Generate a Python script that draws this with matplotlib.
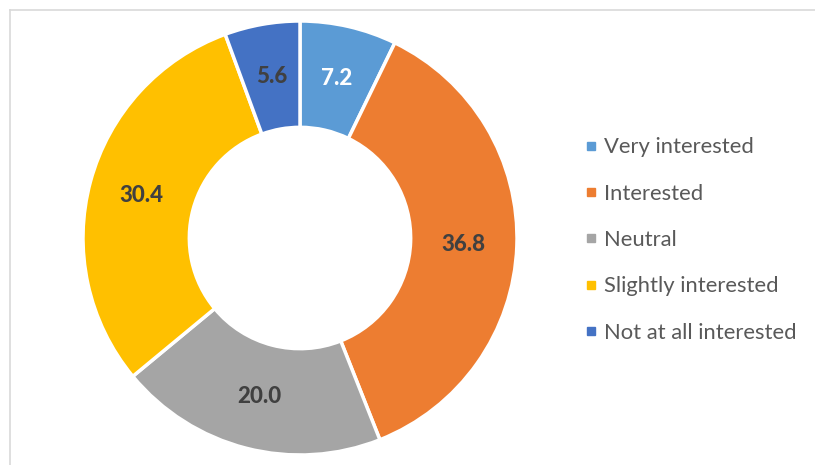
import matplotlib
matplotlib.use("Agg")
import matplotlib.pyplot as plt
from matplotlib.lines import Line2D
import numpy as np

categories = ["Very interested", "Interested", "Neutral", "Slightly interested", "Not at all interested"]
values = [7.2, 36.8, 20.0, 30.4, 5.6]
colors = ["#5B9BD5", "#ED7D31", "#A5A5A5", "#FFC000", "#4472C4"]
label_colors = ["white", "#404040", "#404040", "#404040", "#404040"]

plt.rcParams['font.family'] = ['Lato', 'DejaVu Sans']

W, H = 815, 465
fig = plt.figure(figsize=(W / 100, H / 100), dpi=100)

# light frame on the left and top edges
fig.add_artist(Line2D([10 / W, 10 / W], [0, 1 - 10 / H], color="#D9D9D9", lw=1.2))
fig.add_artist(Line2D([10 / W, 1], [1 - 10 / H, 1 - 10 / H], color="#D9D9D9", lw=1.2))

cx, cy, r = 300, 238, 217
ax = fig.add_axes([(cx - r) / W, (H - cy - r) / H, 2 * r / W, 2 * r / H])

wedges, _ = ax.pie(values, colors=colors, startangle=90, counterclock=False,
                   radius=1, wedgeprops=dict(width=0.49, edgecolor="white", linewidth=2.5))
ax.set_xlim(-1, 1)
ax.set_ylim(-1, 1)

for w, v, c in zip(wedges, values, label_colors):
    ang = np.deg2rad((w.theta1 + w.theta2) / 2)
    ax.text(0.755 * np.cos(ang), 0.755 * np.sin(ang), f"{v:.1f}", ha="center", va="center",
            fontsize=16, fontweight=900, color=c)

handles = [Line2D([], [], marker="s", linestyle="none", markersize=6, color=c) for c in colors]
fig.legend(handles, categories, loc="center left", bbox_to_anchor=(584 / W, 1 - 240 / H),
           frameon=False, fontsize=15.8, labelcolor="#595959", handlelength=0.6,
           handletextpad=0.3, labelspacing=1.2, borderpad=0, borderaxespad=0)

fig.savefig("out.png", dpi=100, facecolor="white")
